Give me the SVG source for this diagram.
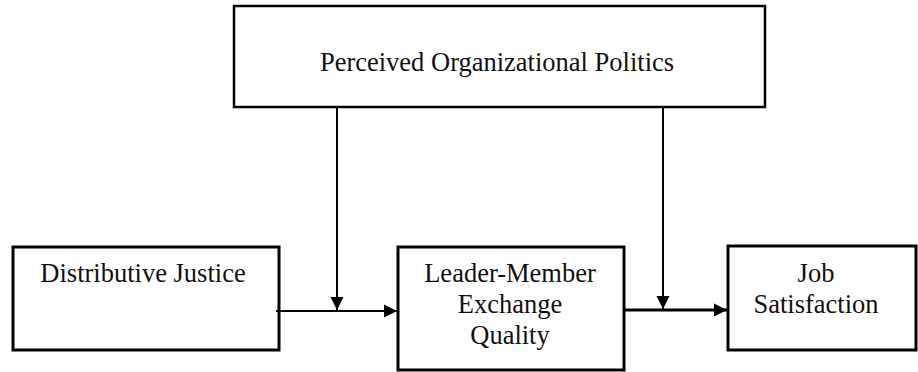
<svg xmlns="http://www.w3.org/2000/svg" width="918" height="372" viewBox="0 0 918 372">
<style>
.box{fill:#fff;stroke:#000;stroke-width:3}
.top{fill:#fff;stroke:#000;stroke-width:2.5}
.lbl{font-family:"Liberation Serif","Times New Roman",serif;font-size:26.5px;fill:#111;text-anchor:middle}
.con{stroke:#000;stroke-width:2;fill:none}
</style>
<defs>
<marker id="ah" markerUnits="userSpaceOnUse" markerWidth="14" markerHeight="14" refX="13" refY="7" orient="auto">
<path d="M0,0.5 L13,7 L0,13.5 Z" fill="#000"/>
</marker>
</defs>
<g id="politics">
<rect class="top" x="234" y="6" width="531" height="101"/>
<text class="lbl" x="497" y="71">Perceived Organizational Politics</text>
</g>
<g id="justice">
<rect class="box" x="13" y="247" width="266" height="103"/>
<text class="lbl" x="143" y="282">Distributive Justice</text>
</g>
<g id="lmx">
<rect class="box" x="398" y="247" width="226" height="123"/>
<text class="lbl" x="510" y="282">Leader-Member</text>
<text class="lbl" x="510" y="313">Exchange</text>
<text class="lbl" x="510" y="344">Quality</text>
</g>
<g id="satisfaction">
<rect class="box" x="728" y="246" width="188" height="104"/>
<text class="lbl" x="816" y="282">Job</text>
<text class="lbl" x="816" y="313">Satisfaction</text>
</g>
<g id="connectors">
<line class="con" x1="276" y1="311" x2="397" y2="311" marker-end="url(#ah)"/>
<line class="con" x1="337" y1="107" x2="337" y2="310" marker-end="url(#ah)"/>
<line class="con" x1="623" y1="310" x2="727" y2="310" marker-end="url(#ah)" style="stroke-width:3"/>
<line class="con" x1="663" y1="107" x2="663" y2="309" marker-end="url(#ah)"/>
</g>
</svg>
